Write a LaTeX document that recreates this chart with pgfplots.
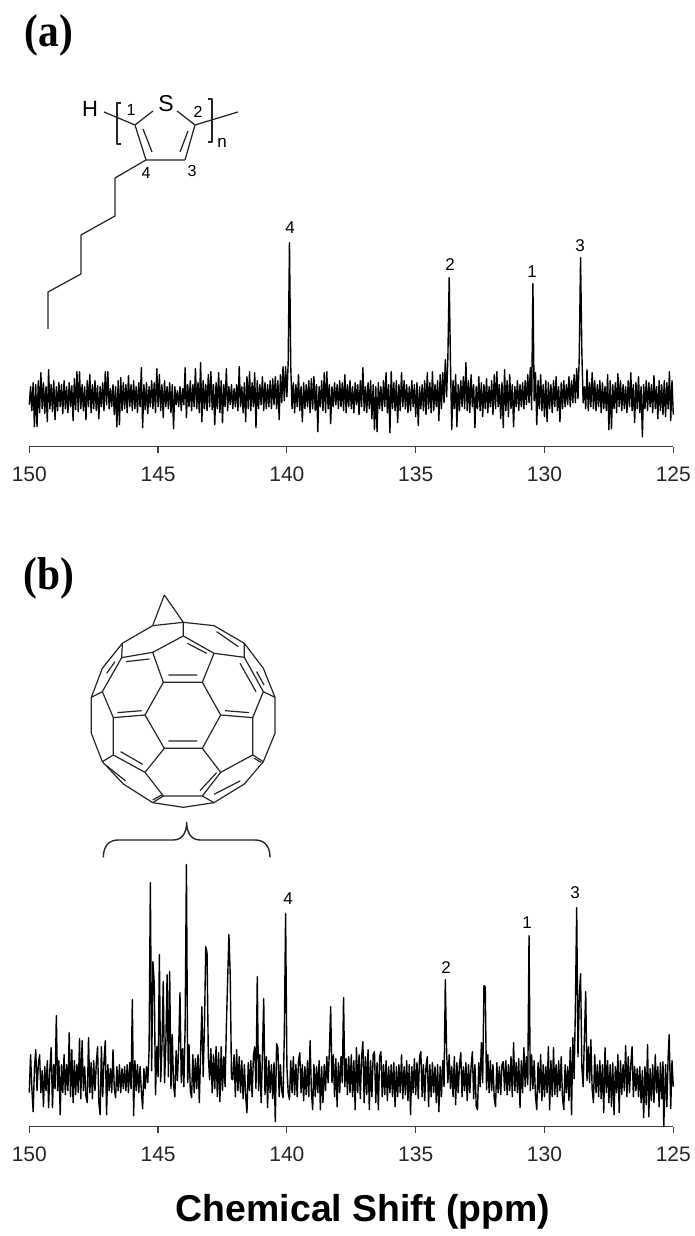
\documentclass[border=0pt]{standalone}
\usepackage{pgfplots}
\pgfplotsset{compat=1.18}
\usepackage{fontspec}
\setmainfont{Liberation Sans}
\newfontfamily\serifb{Liberation Serif}[BoldFont={Liberation Serif Bold}]
\pgfplotsset{nmr/.style={
  scale only axis, width=644pt, height=240pt, xmin=125, xmax=150, ymin=0, ymax=240, x dir=reverse,
  axis x line=bottom, axis y line=none, axis line style={-, draw=black!75, line width=1.3pt},
  xtick={150,145,140,135,130,125}, tick align=outside, major tick length=6pt,
  tick style={draw=black!75, line width=1.2pt}, clip=false,
  /pgf/number format/assume math mode=true,
  xticklabel style={font=\fontsize{21}{21}\selectfont, text=black!85, yshift=-11pt},
  anchor=south west}}
\begin{document}
\begin{tikzpicture}[x=1pt,y=1pt]
\path[use as bounding box] (0,0) rectangle (695,1236);
\begin{axis}[nmr, at={(29.3pt,789.3pt)}]
\addplot[black, line width=1.4pt, line join=round, mark=none] coordinates {
(150.00,42)(149.95,60)(149.90,36)(149.85,64)(149.80,20)(149.75,62)(149.70,20)(149.65,66)(149.60,34)(149.55,74)
(149.50,38)(149.45,64)(149.40,33)(149.35,60)(149.30,25)(149.25,77)(149.20,38)(149.15,62)(149.10,35)(149.05,66)
(149.00,27)(148.95,60)(148.90,36)(148.85,64)(148.80,40)(148.75,62)(148.70,33)(148.65,66)(148.60,38)(148.55,60)
(148.50,34)(148.45,64)(148.40,40)(148.35,61)(148.30,26)(148.25,68)(148.20,37)(148.15,75)(148.10,35)(148.05,75)
(148.00,38)(147.95,62)(147.90,36)(147.85,60)(147.80,27)(147.75,66)(147.70,40)(147.65,72)(147.60,34)(147.55,62)
(147.50,38)(147.45,66)(147.40,36)(147.35,61)(147.30,28)(147.25,60)(147.20,40)(147.15,64)(147.10,36)(147.05,75)
(147.00,42)(146.95,75)(146.90,38)(146.85,58)(146.80,40)(146.75,62)(146.70,32)(146.65,60)(146.60,20)(146.55,66)
(146.50,22)(146.45,69)(146.40,36)(146.35,64)(146.30,38)(146.25,62)(146.20,34)(146.15,71)(146.10,40)(146.05,62)
(146.00,36)(145.95,66)(145.90,38)(145.85,60)(145.80,34)(145.75,64)(145.70,40)(145.65,79)(145.60,19)(145.55,62)
(145.50,37)(145.45,64)(145.40,33)(145.35,60)(145.30,40)(145.25,66)(145.20,38)(145.15,64)(145.10,34)(145.05,78)
(145.00,40)(144.95,72)(144.90,36)(144.85,62)(144.80,29)(144.75,66)(144.70,40)(144.65,60)(144.60,38)(144.55,64)
(144.50,34)(144.45,62)(144.40,18)(144.35,60)(144.30,42)(144.25,56)(144.20,40)(144.15,60)(144.10,36)(144.05,58)
(144.00,42)(143.95,79)(143.90,29)(143.85,62)(143.80,40)(143.75,66)(143.70,36)(143.65,62)(143.60,40)(143.55,78)
(143.50,38)(143.45,64)(143.40,34)(143.35,84)(143.30,25)(143.25,66)(143.20,38)(143.15,62)(143.10,36)(143.05,72)
(143.00,40)(142.95,75)(142.90,37)(142.85,62)(142.80,22)(142.75,64)(142.70,38)(142.65,74)(142.60,34)(142.55,66)
(142.50,24)(142.45,62)(142.40,40)(142.35,78)(142.30,36)(142.25,60)(142.20,42)(142.15,62)(142.10,38)(142.05,58)
(142.00,40)(141.95,62)(141.90,36)(141.85,80)(141.80,40)(141.75,60)(141.70,34)(141.65,64)(141.60,25)(141.55,70)
(141.50,38)(141.45,75)(141.40,36)(141.35,64)(141.30,40)(141.25,74)(141.20,19)(141.15,66)(141.10,38)(141.05,62)
(141.00,42)(140.95,70)(140.90,36)(140.85,64)(140.80,38)(140.75,62)(140.70,40)(140.65,66)(140.60,38)(140.55,68)
(140.50,42)(140.45,70)(140.40,38)(140.35,66)(140.30,27)(140.25,72)(140.20,44)(140.15,80)(140.10,46)(140.05,80)
(140.00,50)(139.95,84)(139.90,204)(139.85,80)(139.80,38)(139.75,64)(139.70,34)(139.65,62)(139.60,40)(139.55,72)
(139.50,36)(139.45,60)(139.40,25)(139.35,64)(139.30,38)(139.25,62)(139.20,40)(139.15,66)(139.10,34)(139.05,68)
(139.00,38)(138.95,70)(138.90,36)(138.85,62)(138.80,15)(138.75,60)(138.70,40)(138.65,66)(138.60,36)(138.55,74)
(138.50,34)(138.45,75)(138.40,38)(138.35,62)(138.30,23)(138.25,60)(138.20,40)(138.15,64)(138.10,42)(138.05,62)
(138.00,38)(137.95,66)(137.90,40)(137.85,64)(137.80,36)(137.75,72)(137.70,34)(137.65,62)(137.60,40)(137.55,66)
(137.50,38)(137.45,60)(137.40,34)(137.35,64)(137.30,42)(137.25,62)(137.20,32)(137.15,66)(137.10,40)(137.05,79)
(137.00,36)(136.95,60)(136.90,34)(136.85,64)(136.80,38)(136.75,66)(136.70,28)(136.65,62)(136.60,17)(136.55,60)
(136.50,15)(136.45,64)(136.40,38)(136.35,60)(136.30,36)(136.25,66)(136.20,40)(136.15,74)(136.10,34)(136.05,62)
(136.00,14)(135.95,75)(135.90,38)(135.85,64)(135.80,36)(135.75,66)(135.70,24)(135.65,62)(135.60,36)(135.55,74)
(135.50,40)(135.45,66)(135.40,38)(135.35,62)(135.30,34)(135.25,60)(135.20,36)(135.15,66)(135.10,40)(135.05,62)
(135.00,30)(134.95,64)(134.90,21)(134.85,60)(134.80,38)(134.75,62)(134.70,36)(134.65,66)(134.60,32)(134.55,74)
(134.50,38)(134.45,64)(134.40,34)(134.35,75)(134.30,36)(134.25,62)(134.20,40)(134.15,66)(134.10,26)(134.05,72)
(134.00,38)(133.95,74)(133.90,44)(133.85,87)(133.80,50)(133.75,90)(133.70,169)(133.65,84)(133.60,17)(133.55,66)
(133.50,38)(133.45,72)(133.40,20)(133.35,62)(133.30,36)(133.25,66)(133.20,40)(133.15,70)(133.10,38)(133.05,84)
(133.00,36)(132.95,66)(132.90,34)(132.85,72)(132.80,40)(132.75,62)(132.70,19)(132.65,60)(132.60,38)(132.55,70)
(132.50,36)(132.45,64)(132.40,30)(132.35,62)(132.30,38)(132.25,68)(132.20,34)(132.15,60)(132.10,40)(132.05,66)
(132.00,32)(131.95,72)(131.90,38)(131.85,75)(131.80,40)(131.75,62)(131.70,28)(131.65,64)(131.60,19)(131.55,77)
(131.50,36)(131.45,66)(131.40,30)(131.35,72)(131.30,38)(131.25,62)(131.20,20)(131.15,60)(131.10,40)(131.05,66)
(131.00,36)(130.95,62)(130.90,40)(130.85,64)(130.80,38)(130.75,66)(130.70,42)(130.65,72)(130.60,44)(130.55,79)
(130.50,37)(130.45,163)(130.40,46)(130.35,74)(130.30,22)(130.25,66)(130.20,38)(130.15,72)(130.10,36)(130.05,62)
(130.00,30)(129.95,66)(129.90,25)(129.85,64)(129.80,38)(129.75,62)(129.70,34)(129.65,66)(129.60,40)(129.55,70)
(129.50,36)(129.45,60)(129.40,25)(129.35,64)(129.30,38)(129.25,66)(129.20,40)(129.15,62)(129.10,42)(129.05,70)
(129.00,40)(128.95,66)(128.90,44)(128.85,72)(128.80,44)(128.75,78)(128.70,48)(128.65,90)(128.60,189)(128.55,95)
(128.50,44)(128.45,60)(128.40,38)(128.35,77)(128.30,36)(128.25,64)(128.20,40)(128.15,74)(128.10,38)(128.05,66)
(128.00,36)(127.95,62)(127.90,40)(127.85,66)(127.80,34)(127.75,64)(127.70,38)(127.65,60)(127.60,36)(127.55,72)
(127.50,17)(127.45,66)(127.40,18)(127.35,62)(127.30,38)(127.25,64)(127.20,34)(127.15,73)(127.10,40)(127.05,66)
(127.00,36)(126.95,62)(126.90,38)(126.85,60)(126.80,34)(126.75,66)(126.70,40)(126.65,74)(126.60,36)(126.55,62)
(126.50,24)(126.45,64)(126.40,38)(126.35,70)(126.30,34)(126.25,60)(126.20,10)(126.15,62)(126.10,38)(126.05,66)
(126.00,36)(125.95,64)(125.90,40)(125.85,62)(125.80,34)(125.75,71)(125.70,38)(125.65,60)(125.60,28)(125.55,66)
(125.50,36)(125.45,62)(125.40,32)(125.35,66)(125.30,30)(125.25,64)(125.20,38)(125.15,75)(125.10,26)(125.05,66)
(125.00,32)
};
\end{axis}
\begin{axis}[nmr, at={(29.3pt,109.3pt)}]
\addplot[black, line width=1.4pt, line join=round, mark=none] coordinates {
(150.00,34)(149.95,72)(149.90,38)(149.85,15)(149.80,58)(149.75,77)(149.70,36)(149.65,62)(149.60,72)(149.55,34)
(149.50,56)(149.45,20)(149.40,60)(149.35,36)(149.30,66)(149.25,19)(149.20,58)(149.15,79)(149.10,19)(149.05,62)
(149.00,38)(148.95,111)(148.90,36)(148.85,66)(148.80,12)(148.75,62)(148.70,34)(148.65,72)(148.60,32)(148.55,62)
(148.50,36)(148.45,94)(148.40,30)(148.35,77)(148.30,24)(148.25,66)(148.20,32)(148.15,62)(148.10,34)(148.05,88)
(148.00,28)(147.95,86)(147.90,36)(147.85,60)(147.80,30)(147.75,24)(147.70,89)(147.65,34)(147.60,64)(147.55,28)
(147.50,66)(147.45,36)(147.40,62)(147.35,80)(147.30,24)(147.25,12)(147.20,80)(147.15,30)(147.10,66)(147.05,86)
(147.00,12)(146.95,62)(146.90,36)(146.85,58)(146.80,34)(146.75,77)(146.70,38)(146.65,29)(146.60,60)(146.55,36)
(146.50,62)(146.45,34)(146.40,58)(146.35,38)(146.30,60)(146.25,36)(146.20,62)(146.15,34)(146.10,64)(146.05,38)
(146.00,127)(145.95,11)(145.90,66)(145.85,36)(145.80,62)(145.75,34)(145.70,60)(145.65,36)(145.60,18)(145.55,58)
(145.50,38)(145.45,60)(145.40,44)(145.35,76)(145.30,244)(145.25,56)(145.20,165)(145.15,144)(145.10,32)(145.05,80)
(145.00,50)(144.95,172)(144.90,45)(144.85,80)(144.80,145)(144.75,44)(144.70,82)(144.65,152)(144.60,50)(144.55,155)
(144.50,38)(144.45,92)(144.40,42)(144.35,30)(144.30,76)(144.25,46)(144.20,80)(144.15,134)(144.10,44)(144.05,78)
(144.00,40)(143.95,100)(143.90,262)(143.85,44)(143.80,82)(143.75,36)(143.70,29)(143.65,72)(143.60,34)(143.55,68)
(143.50,38)(143.45,72)(143.40,24)(143.35,74)(143.30,120)(143.25,50)(143.20,100)(143.15,180)(143.10,174)(143.05,70)
(143.00,47)(142.95,78)(142.90,34)(142.85,72)(142.80,38)(142.75,80)(142.70,30)(142.65,74)(142.60,25)(142.55,80)
(142.50,36)(142.45,70)(142.40,40)(142.35,100)(142.30,147)(142.25,192)(142.20,152)(142.15,48)(142.10,47)(142.05,72)
(142.00,30)(141.95,77)(141.90,36)(141.85,70)(141.80,34)(141.75,66)(141.70,28)(141.65,62)(141.60,30)(141.55,14)
(141.50,64)(141.45,36)(141.40,66)(141.35,30)(141.30,70)(141.25,80)(141.20,38)(141.15,150)(141.10,36)(141.05,72)
(141.00,24)(140.95,70)(140.90,128)(140.85,32)(140.80,70)(140.75,19)(140.70,66)(140.65,34)(140.60,62)(140.55,28)
(140.50,64)(140.45,5)(140.40,83)(140.35,79)(140.30,30)(140.25,62)(140.20,36)(140.15,29)(140.10,92)(140.05,213)
(140.00,60)(139.95,34)(139.90,27)(139.85,66)(139.80,34)(139.75,70)(139.70,32)(139.65,62)(139.60,30)(139.55,66)
(139.50,74)(139.45,34)(139.40,62)(139.35,26)(139.30,60)(139.25,32)(139.20,66)(139.15,30)(139.10,86)(139.05,36)
(139.00,17)(138.95,62)(138.90,30)(138.85,60)(138.80,34)(138.75,66)(138.70,17)(138.65,60)(138.60,24)(138.55,62)
(138.50,36)(138.45,70)(138.40,44)(138.35,76)(138.30,120)(138.25,44)(138.20,72)(138.15,30)(138.10,68)(138.05,20)
(138.00,64)(137.95,34)(137.90,70)(137.85,44)(137.80,129)(137.75,40)(137.70,68)(137.65,32)(137.60,70)(137.55,34)
(137.50,72)(137.45,30)(137.40,66)(137.35,17)(137.30,79)(137.25,34)(137.20,72)(137.15,28)(137.10,70)(137.05,85)
(137.00,24)(136.95,70)(136.90,32)(136.85,77)(136.80,17)(136.75,66)(136.70,30)(136.65,72)(136.60,75)(136.55,24)
(136.50,64)(136.45,17)(136.40,70)(136.35,75)(136.30,30)(136.25,62)(136.20,32)(136.15,66)(136.10,26)(136.05,60)
(136.00,34)(135.95,62)(135.90,30)(135.85,64)(135.80,20)(135.75,60)(135.70,30)(135.65,62)(135.60,34)(135.55,72)
(135.50,28)(135.45,60)(135.40,32)(135.35,66)(135.30,26)(135.25,62)(135.20,12)(135.15,60)(135.10,34)(135.05,68)
(135.00,32)(134.95,64)(134.90,28)(134.85,70)(134.80,75)(134.75,30)(134.70,62)(134.65,26)(134.60,60)(134.55,70)
(134.50,20)(134.45,62)(134.40,30)(134.35,64)(134.30,34)(134.25,60)(134.20,24)(134.15,62)(134.10,15)(134.05,60)
(134.00,30)(133.95,66)(133.90,40)(133.85,147)(133.80,75)(133.75,44)(133.70,72)(133.65,38)(133.60,60)(133.55,30)
(133.50,70)(133.45,22)(133.40,64)(133.35,34)(133.30,62)(133.25,74)(133.20,30)(133.15,60)(133.10,36)(133.05,64)
(133.00,26)(132.95,62)(132.90,34)(132.85,60)(132.80,75)(132.75,28)(132.70,62)(132.65,20)(132.60,17)(132.55,64)
(132.50,40)(132.45,84)(132.40,44)(132.35,141)(132.30,140)(132.25,37)(132.20,72)(132.15,34)(132.10,66)(132.05,36)
(132.00,62)(131.95,28)(131.90,20)(131.85,64)(131.80,34)(131.75,60)(131.70,32)(131.65,62)(131.60,65)(131.55,36)
(131.50,66)(131.45,32)(131.40,62)(131.35,36)(131.30,70)(131.25,30)(131.20,84)(131.15,36)(131.10,64)(131.05,34)
(131.00,68)(130.95,19)(130.90,66)(130.85,34)(130.80,79)(130.75,40)(130.70,70)(130.65,42)(130.60,191)(130.55,36)
(130.50,72)(130.45,38)(130.40,66)(130.35,30)(130.30,17)(130.25,64)(130.20,34)(130.15,72)(130.10,26)(130.05,62)
(130.00,30)(129.95,60)(129.90,34)(129.85,80)(129.80,17)(129.75,66)(129.70,30)(129.65,79)(129.60,32)(129.55,62)
(129.50,30)(129.45,66)(129.40,36)(129.35,70)(129.30,28)(129.25,17)(129.20,62)(129.15,34)(129.10,60)(129.05,26)
(129.00,79)(128.95,12)(128.90,89)(128.85,48)(128.80,120)(128.75,219)(128.70,70)(128.65,130)(128.60,153)(128.55,60)
(128.50,40)(128.45,90)(128.40,135)(128.35,46)(128.30,80)(128.25,44)(128.20,87)(128.15,38)(128.10,24)(128.05,72)
(128.00,34)(127.95,62)(127.90,30)(127.85,66)(127.80,28)(127.75,62)(127.70,14)(127.65,79)(127.60,34)(127.55,66)
(127.50,24)(127.45,62)(127.40,20)(127.35,64)(127.30,12)(127.25,60)(127.20,34)(127.15,72)(127.10,14)(127.05,66)
(127.00,32)(126.95,62)(126.90,36)(126.85,81)(126.80,30)(126.75,70)(126.70,34)(126.65,62)(126.60,80)(126.55,30)
(126.50,60)(126.45,36)(126.40,58)(126.35,30)(126.30,60)(126.25,24)(126.20,56)(126.15,9)(126.10,60)(126.05,22)
(126.00,82)(125.95,10)(125.90,58)(125.85,26)(125.80,62)(125.75,24)(125.70,72)(125.65,34)(125.60,60)(125.55,20)
(125.50,64)(125.45,28)(125.40,65)(125.37,0)(125.30,62)(125.25,20)(125.20,70)(125.16,92)(125.10,18)(125.05,66)
(125.00,40)
};
\end{axis}
% panel letters and title
\node[font=\serifb\bfseries\fontsize{46}{46}\selectfont,xscale=.9] at (49,1201) {(a)};
\node[font=\serifb\bfseries\fontsize{46}{46}\selectfont,xscale=.9] at (49,658) {(b)};
\node[font=\bfseries\fontsize{37.4}{38}\selectfont] at (363,24) {Chemical Shift (ppm)};
% peak numbers
\foreach \xx/\yy/\t in {290/228/4,450/265/2,532/272/1,580/246/3,288/899/4,446/968/2,527/923/1,575/893/3}
  \node[font=\fontsize{17}{17}\selectfont] at (\xx,1236-\yy) {\t};
% thiophene
\begin{scope}[shift={(0,1236)},yscale=-1,line width=1.25pt,draw=black!85,line join=round]
\draw (104,112)--(135,125)--(146,160)--(185,160)--(195,125)--(238,112);
\draw (135,125)--(153,111) (177,111)--(195,125);
\draw (143,129)--(152,152) (188,131)--(180,152);
\draw (121,103)--(117,103)--(117,144)--(121,144);
\draw (208,99)--(212,99)--(212,142)--(208,142);
\draw (146,160)--(115,178)--(115,216)--(81,235)--(81,274)--(48,292)--(48,329);
\end{scope}
\node[font=\fontsize{22}{22}\selectfont] at (90,1236-109) {H};
\node[font=\fontsize{23}{23}\selectfont] at (166,1236-104) {S};
\node[font=\fontsize{17}{17}\selectfont] at (222,1236-143) {n};
\foreach \xx/\yy/\t in {131/110/1,198/112/2,192/171/3,146/173/4}
  \node[font=\fontsize{16}{16}\selectfont] at (\xx,1236-\yy) {\t};
% fullerene
\begin{scope}[shift={(60,656)},xscale=1/3,yscale=-1/3,line width=1.2pt,draw=black!85,line join=round]
\draw (313,45)--(278,137) (313,45)--(370,127)--(278,137);
\draw (370,127)--(462,137)--(553,190)--(610,265)--(645,352)--(645,460)--(610,545)--(553,612)--(462,668)--(370,682)--(278,668)--(190,612)--(127,545)--(94,460)--(94,352)--(127,265)--(187,190)--(278,137);
\draw (370,168)--(462,220)--(427,307)--(310,307)--(278,217)--cycle (370,127)--(370,168);
\draw (187,190)--(185,233)--(278,217) (553,190)--(553,232)--(462,220);
\draw (185,233)--(127,335)--(94,352) (127,335)--(160,413)--(255,405)--(310,307);
\draw (427,307)--(482,405)--(427,505)--(313,505)--(255,405);
\draw (553,232)--(610,335)--(645,352) (610,335)--(578,413)--(482,405);
\draw (160,413)--(160,525)--(255,577)--(313,505) (160,525)--(127,545);
\draw (578,413)--(578,525)--(482,577)--(427,505) (578,525)--(610,545);
\draw (255,577)--(310,648)--(427,648)--(482,577) (310,648)--(278,668) (427,648)--(462,668);
\draw (382,190)--(440,220) (325,285)--(412,285) (198,245)--(268,237) (172,398)--(245,392) (325,483)--(412,483) (495,392)--(567,398) (540,250)--(588,335) (470,155)--(535,200) (182,515)--(248,553) (137,555)--(197,603) (420,632)--(470,578) (462,643)--(540,603) (278,660)--(305,645) (583,535)--(603,547) (590,275)--(612,315) (140,280)--(165,245);
\draw[line width=1.4pt] (130,832) .. controls (130,795) and (150,780) .. (175,780) -- (340,780) .. controls (365,780) and (380,760) .. (380,727) .. controls (380,760) and (395,780) .. (420,780) -- (585,780) .. controls (610,780) and (630,795) .. (630,832);
\end{scope}
\end{tikzpicture}
\end{document}
